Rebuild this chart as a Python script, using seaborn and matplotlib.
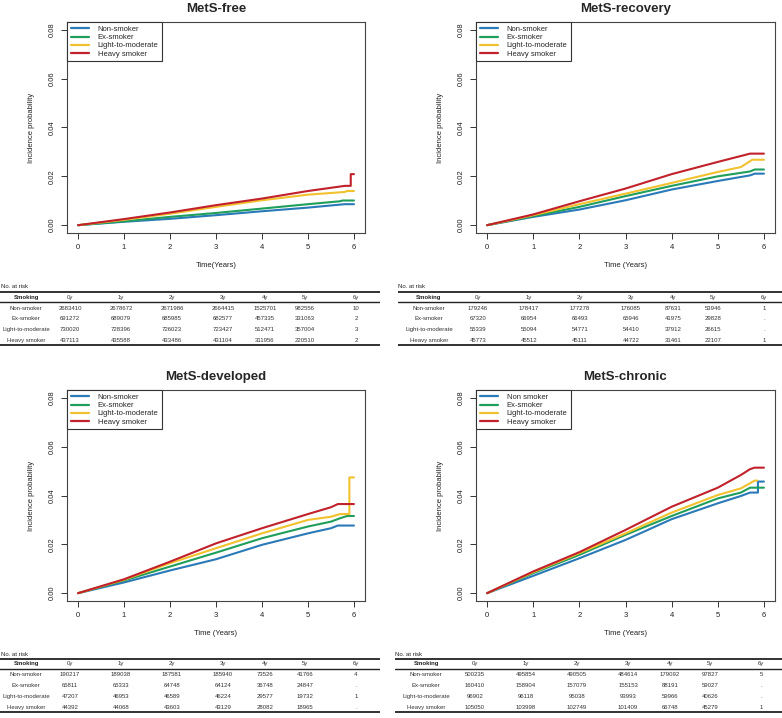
import numpy as np
import pandas as pd
import matplotlib
matplotlib.use("Agg")
import matplotlib.pyplot as plt
import seaborn as sns

sns.set_style("white")
plt.rcParams['font.family'] = ['Liberation Sans', 'DejaVu Sans']

W, H = 782, 718

groups = ["Non-smoker", "Ex-smoker", "Light-to-moderate", "Heavy smoker"]
colors = ["#2a7ab8", "#1f9e5c", "#f2c12e", "#c1212b"]

# ---------------- curve data (time in years, cumulative incidence) ----------------
free_t = [[0, 1, 2, 3, 4, 5, 5.8, 6],
          [0, 1, 2, 3, 4, 5, 5.7, 5.75, 6],
          [0, 1, 2, 3, 4, 5, 5.8, 5.85, 6],
          [0, 1, 2, 3, 4, 5, 5.8, 5.93, 5.93, 6]]
free_v = [[0, 0.0014, 0.0026, 0.0041, 0.0057, 0.0072, 0.0086, 0.0086],
          [0, 0.0016, 0.0034, 0.0050, 0.0068, 0.0086, 0.0098, 0.0101, 0.0101],
          [0, 0.0022, 0.0047, 0.0075, 0.0102, 0.0125, 0.0136, 0.0140, 0.0140],
          [0, 0.0025, 0.0052, 0.0082, 0.0109, 0.0140, 0.0161, 0.0161, 0.0209, 0.0209]]

rec_t = [[0, 1, 2, 3, 4, 5, 5.7, 5.8, 6],
         [0, 1, 2, 3, 4, 5, 5.7, 5.8, 6],
         [0, 1, 2, 3, 4, 5, 5.5, 5.75, 6],
         [0, 1, 2, 3, 4, 5, 5.7, 6]]
rec_v = [[0, 0.0034, 0.0064, 0.0102, 0.0146, 0.0181, 0.0204, 0.0211, 0.0211],
         [0, 0.0037, 0.0075, 0.0119, 0.0161, 0.0200, 0.0220, 0.0228, 0.0228],
         [0, 0.0041, 0.0086, 0.0129, 0.0173, 0.0218, 0.0238, 0.0268, 0.0268],
         [0, 0.0044, 0.0098, 0.0150, 0.0209, 0.0259, 0.0293, 0.0293]]

dev_t = [[0, 1, 2, 3, 4, 5, 5.5, 5.65, 6],
         [0, 1, 2, 3, 4, 5, 5.5, 5.7, 5.85, 6],
         [0, 1, 2, 3, 4, 5, 5.5, 5.7, 5.9, 5.9, 6],
         [0, 1, 2, 3, 4, 5, 5.5, 5.65, 6]]
dev_v = [[0, 0.0044, 0.0093, 0.0139, 0.0198, 0.0245, 0.0266, 0.0277, 0.0277],
         [0, 0.0052, 0.0109, 0.0166, 0.0225, 0.0273, 0.0293, 0.0307, 0.0316, 0.0316],
         [0, 0.0055, 0.0123, 0.0184, 0.0245, 0.0300, 0.0313, 0.0324, 0.0324, 0.0474, 0.0474],
         [0, 0.0057, 0.0129, 0.0204, 0.0266, 0.0324, 0.0352, 0.0365, 0.0365]]

chr_t = [[0, 1, 2, 3, 4, 5, 5.5, 5.7, 5.87, 5.87, 6],
         [0, 1, 2, 3, 4, 5, 5.5, 5.7, 6],
         [0, 1, 2, 3, 4, 5, 5.5, 5.8, 5.85],
         [0, 1, 2, 3, 4, 5, 5.5, 5.7, 5.8, 6]]
chr_v = [[0, 0.0071, 0.0143, 0.0218, 0.0303, 0.0368, 0.0398, 0.0412, 0.0412, 0.0457, 0.0457],
         [0, 0.0082, 0.0157, 0.0239, 0.0316, 0.0388, 0.0412, 0.0432, 0.0432],
         [0, 0.0086, 0.0164, 0.0245, 0.0330, 0.0402, 0.0429, 0.0461, 0.0461],
         [0, 0.0089, 0.0168, 0.0259, 0.0354, 0.0432, 0.0484, 0.0508, 0.0514, 0.0514]]

# ---------------- number at risk tables ----------------
years = ["0y", "1y", "2y", "3y", "4y", "5y", "6y"]
risk_free = [[2683410, 2678672, 2671986, 2664415, 1525701, 982556, 10],
             [691272, 689079, 685985, 682577, 457335, 331063, 2],
             [730020, 728396, 726023, 723427, 512471, 357004, 3],
             [437113, 435588, 433486, 431104, 311956, 220510, 2]]
risk_rec = [[179246, 178417, 177278, 176085, 87631, 53946, 1],
            [67320, 66954, 66493, 65946, 41975, 29828, "."],
            [55339, 55094, 54771, 54410, 37912, 26615, "."],
            [45773, 45512, 45111, 44722, 31461, 22107, 1]]
risk_dev = [[190217, 189038, 187581, 185940, 73526, 41766, 4],
            [65811, 65333, 64748, 64124, 36748, 24847, "."],
            [47207, 46953, 46589, 46224, 29577, 19732, 1],
            [44392, 44068, 43603, 43129, 28082, 18965, "."]]
risk_chr = [[500235, 495854, 490505, 484614, 179092, 97827, 5],
            [160410, 158904, 157079, 155153, 88191, 59027, "."],
            [96902, 96118, 95038, 93993, 59966, 40626, "."],
            [105050, 103998, 102749, 101409, 66748, 45279, 1]]

fig = plt.figure(figsize=(W / 100, H / 100), dpi=100)


def rect(l, t, r, b):
    return [l / W, 1 - b / H, (r - l) / W, (b - t) / H]


def panel(l, t, r, b, title, tt, vv, labels, xlabel, ylabx):
    ax = fig.add_axes(rect(l, t, r, b))
    rows = []
    for g, (ts, vs) in enumerate(zip(tt, vv)):
        for x, y in zip(ts, vs):
            rows.append({"t": x, "v": y, "g": labels[g]})
    df = pd.DataFrame(rows)
    sns.lineplot(data=df, x="t", y="v", hue="g", hue_order=labels,
                 palette=colors, estimator=None, sort=False, lw=1.5,
                 legend=False, ax=ax)
    ax.set_xlim(-0.24, 6.24)
    ax.set_ylim(-0.0032, 0.0832)
    ax.set_xticks(range(7))
    ax.set_yticks([0, 0.02, 0.04, 0.06, 0.08])
    ax.set_yticklabels(["0.00", "0.02", "0.04", "0.06", "0.08"],
                       rotation=90, va="center")
    ax.tick_params(axis="both", direction="out", length=4, width=0.7,
                   color="#333333", labelsize=5.5, pad=4, labelcolor="#222222")
    ax.tick_params(axis="both", which="both", bottom=True, left=True)
    for s in ax.spines.values():
        s.set_color("#444444")
        s.set_linewidth(0.8)
    ax.set_xlabel(xlabel, fontsize=5.5, color="#222222")
    ax.set_ylabel("Incidence probability", fontsize=5.5, color="#222222")
    ax.xaxis.set_label_coords(0.5, -0.137)
    ax.yaxis.set_label_coords(ylabx, 0.5)
    ax.set_title(title, fontsize=9.5, fontweight="bold", pad=7)
    handles = [plt.Line2D([], [], color=c, lw=1.6) for c in colors]
    leg = ax.legend(handles, labels, loc="upper left", fontsize=5.5,
                    fancybox=False, framealpha=1, edgecolor="#333333",
                    borderaxespad=0, handlelength=2.4, handletextpad=1.1,
                    labelspacing=0.1, borderpad=0.5)
    leg.get_frame().set_linewidth(0.8)
    return ax


def table(l, t, data, note_x=0, lab_x=31):
    # l,t = pixel position of table top line left end
    tw, th = 390, 62
    ax = fig.add_axes(rect(l, t - 8, l + tw, t + th - 8))
    ax.set_xlim(0, tw)
    ax.set_ylim(th, 0)
    ax.axis("off")
    y0 = 8
    fs = 4.3
    ax.text(note_x, y0 - 5, "No. at risk", fontsize=fs, va="center", ha="left",
            color="#222222")
    ax.plot([0, tw], [y0, y0], color="#222222", lw=1.3)
    ax.plot([0, tw], [y0 + 10, y0 + 10], color="#222222", lw=1.0)
    ax.plot([0, tw], [y0 + 53, y0 + 53], color="#222222", lw=1.3)
    cols = [80, 131, 182, 233, 275, 315, 366]
    ax.text(lab_x, y0 + 5, "Smoking", fontsize=fs, fontweight="bold",
            ha="center", va="center", color="#222222")
    for c, yl in zip(cols, years):
        ax.text(c, y0 + 5, yl, fontsize=fs, ha="center", va="center",
                color="#333333")
    for i, g in enumerate(groups):
        yy = y0 + 16 + i * 10.7
        ax.text(lab_x, yy, g, fontsize=fs, ha="center", va="center",
                color="#333333")
        for c, val in zip(cols, data[i]):
            ax.text(c, yy, str(val), fontsize=fs, ha="center", va="center",
                    color="#333333")


labels_std = groups
labels_chr = ["Non smoker", "Ex-smoker", "Light-to-moderate", "Heavy smoker"]

panel(67, 22, 365, 233, "MetS-free", free_t, free_v, labels_std,
      "Time(Years)", -0.107)
panel(476, 22, 775, 233, "MetS-recovery", rec_t, rec_v, labels_std,
      "Time (Years)", -0.107)
panel(67, 390, 365, 601, "MetS-developed", dev_t, dev_v, labels_std,
      "Time (Years)", -0.107)
panel(476, 390, 775, 601, "MetS-chronic", chr_t, chr_v, labels_chr,
      "Time (Years)", -0.107)

table(-10, 292, risk_free, note_x=11, lab_x=36)
table(398, 292, risk_rec)
table(-10, 659, risk_dev, note_x=11, lab_x=36)
table(395, 659, risk_chr)

fig.savefig("out.png", dpi=100)
